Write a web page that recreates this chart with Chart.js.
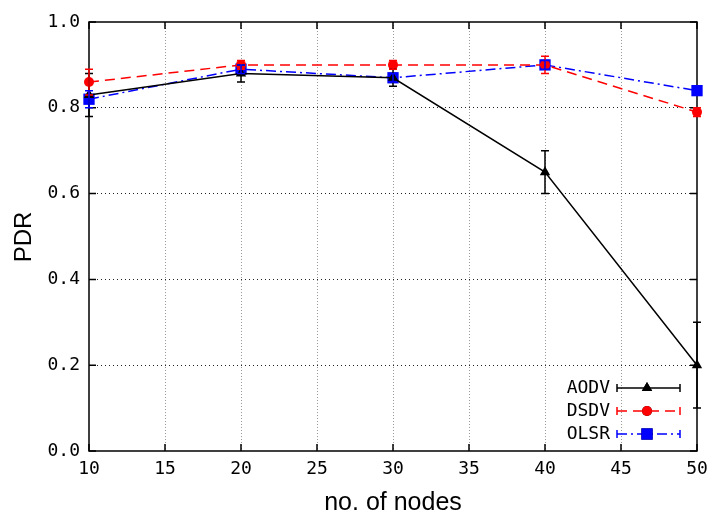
<!DOCTYPE html>
<html>
<head>
<meta charset="utf-8">
<script src="https://cdn.jsdelivr.net/npm/chart.js@4"></script>
<style>
  html, body { margin: 0; padding: 0; background: #fff; }
  #wrap { width: 712px; height: 518px; }
</style>
</head>
<body>
<div id="wrap"><canvas id="pdr-chart" width="712" height="518"></canvas></div>
<script>
// values
const nodes = [10, 20, 30, 40, 50];
const aodv = [0.83, 0.88, 0.87, 0.65, 0.20];
const aodvErr = [0.05, 0.02, 0.02, 0.05, 0.10];
const dsdv = [0.86, 0.90, 0.90, 0.90, 0.79];
const dsdvErr = [0.03, 0.01, 0.01, 0.02, 0.01];
const olsr = [0.82, 0.89, 0.87, 0.90, 0.84];
const olsrErr = [0.02, 0.01, 0.01, 0.01, 0.01];
const seriesNames = ["AODV", "DSDV", "OLSR"];

const monoFont = "'DejaVu Sans Mono', monospace";
const sansFont = "'Liberation Sans', Arial, sans-serif";

function toPoints(values) {
    return values.map((v, i) => ({ x: nodes[i], y: v }));
}

const styles = [
    { color: "#000000", dash: [], point: "triangle", radius: 6 },
    { color: "#ff0000", dash: [10, 6], point: "circle", radius: 5 },
    { color: "#0000ff", dash: [10, 4, 2, 4], point: "rect", radius: 8 },
];
const errs = [aodvErr, dsdvErr, olsrErr];

const datasets = [aodv, dsdv, olsr].map((vals, k) => ({
    label: seriesNames[k],
    data: toPoints(vals),
    borderColor: styles[k].color,
    backgroundColor: styles[k].color,
    borderWidth: 1.5,
    borderDash: styles[k].dash,
    pointStyle: styles[k].point,
    pointRadius: styles[k].radius,
    pointBorderWidth: 0,
    tension: 0,
    clip: false,
}));

// vertical error bars with caps
const errorBars = {
    id: "errorBars",
    afterDatasetsDraw(chart) {
        const ctx = chart.ctx;
        const xs = chart.scales.x, ys = chart.scales.y;
        ctx.save();
        chart.data.datasets.forEach((ds, k) => {
            ctx.strokeStyle = styles[k].color;
            ctx.lineWidth = 1.5;
            ds.data.forEach((p, i) => {
                const e = errs[k][i];
                const px = xs.getPixelForValue(p.x);
                const top = ys.getPixelForValue(p.y + e);
                const bot = ys.getPixelForValue(p.y - e);
                ctx.beginPath();
                ctx.moveTo(px, top); ctx.lineTo(px, bot);
                ctx.moveTo(px - 4, top); ctx.lineTo(px + 4, top);
                ctx.moveTo(px - 4, bot); ctx.lineTo(px + 4, bot);
                ctx.stroke();
            });
        });
        ctx.restore();
    },
};

// frame, inward ticks, axis titles and gnuplot-style key
const frame = {
    id: "frame",
    beforeDatasetsDraw(chart) {
        const ctx = chart.ctx;
        const a = chart.chartArea;
        const xs = chart.scales.x, ys = chart.scales.y;
        ctx.save();
        ctx.strokeStyle = "#000";
        ctx.lineWidth = 1.5;
        ctx.strokeRect(a.left, a.top, a.right - a.left, a.bottom - a.top);
        ctx.beginPath();
        xs.ticks.forEach((t) => {
            const px = xs.getPixelForValue(t.value);
            ctx.moveTo(px, a.bottom); ctx.lineTo(px, a.bottom - 7);
            ctx.moveTo(px, a.top); ctx.lineTo(px, a.top + 7);
        });
        ys.ticks.forEach((t) => {
            const py = ys.getPixelForValue(t.value);
            ctx.moveTo(a.left, py); ctx.lineTo(a.left + 7, py);
            ctx.moveTo(a.right, py); ctx.lineTo(a.right - 7, py);
        });
        ctx.stroke();
        ctx.restore();
    },
    afterDraw(chart) {
        const ctx = chart.ctx;
        const a = chart.chartArea;
        ctx.save();
        // axis titles
        ctx.fillStyle = "#000";
        ctx.textAlign = "center";
        ctx.textBaseline = "middle";
        ctx.font = "25px " + sansFont;
        ctx.fillText("no. of nodes", (a.left + a.right) / 2, 503);
        ctx.save();
        ctx.font = "24px " + sansFont;
        ctx.translate(24, 237);
        ctx.rotate(-Math.PI / 2);
        ctx.fillText("PDR", 0, 0);
        ctx.restore();

        // key
        ctx.font = "18px " + monoFont;
        ctx.textAlign = "right";
        const rows = [388, 411, 434];
        const x0 = 617, x1 = 680, xm = 647;
        chart.data.datasets.forEach((ds, k) => {
            const y = rows[k];
            ctx.fillStyle = "#000";
            ctx.fillText(seriesNames[k], 610, y);
            ctx.strokeStyle = styles[k].color;
            ctx.lineWidth = 1.5;
            ctx.setLineDash(styles[k].dash);
            ctx.beginPath();
            ctx.moveTo(x0, y); ctx.lineTo(x1, y);
            ctx.stroke();
            ctx.setLineDash([]);
            ctx.beginPath();
            ctx.moveTo(x0, y - 4); ctx.lineTo(x0, y + 4);
            ctx.moveTo(x1, y - 4); ctx.lineTo(x1, y + 4);
            ctx.stroke();
            Chart.helpers.drawPoint(ctx, {
                pointStyle: styles[k].point,
                radius: styles[k].radius,
                borderWidth: 0,
            }, xm, y);
            ctx.fillStyle = styles[k].color;
            ctx.fill();
        });
        ctx.restore();
    },
};

new Chart(document.getElementById("pdr-chart"), {
    type: "line",
    data: { datasets },
    plugins: [errorBars, frame],
    options: {
        responsive: false,
        animation: false,
        layout: { padding: { left: 0, right: 15, top: 22, bottom: 0 } },
        plugins: {
            legend: { display: false },
            tooltip: { enabled: false },
        },
        scales: {
            x: {
                type: "linear",
                min: 10,
                max: 50,
                afterFit: (s) => {
                    s.height = 67;
                    s.paddingLeft = 0;
                    s.paddingRight = 0;
                },
                ticks: {
                    stepSize: 5,
                    color: "#000",
                    padding: 8,
                    font: { family: monoFont, size: 18 },
                },
                grid: {
                    color: (c) => (c.tick.value === 10 || c.tick.value === 50 ? "transparent" : "#999"),
                    drawTicks: false,
                    lineWidth: 1,
                },
                border: { display: false, dash: [1, 2] },
            },
            y: {
                min: 0,
                max: 1,
                afterFit: (s) => {
                    s.width = 89;
                    s.paddingTop = 0;
                    s.paddingBottom = 0;
                },
                ticks: {
                    stepSize: 0.2,
                    color: "#000",
                    padding: 9,
                    font: { family: monoFont, size: 18 },
                    callback: (v) => v.toFixed(1),
                },
                grid: {
                    color: (c) => (c.tick.value === 0 || c.tick.value === 1 ? "transparent" : "#222"),
                    drawTicks: false,
                    lineWidth: 1,
                },
                border: { display: false, dash: [1, 3] },
            },
        },
    },
});
</script>
</body>
</html>
